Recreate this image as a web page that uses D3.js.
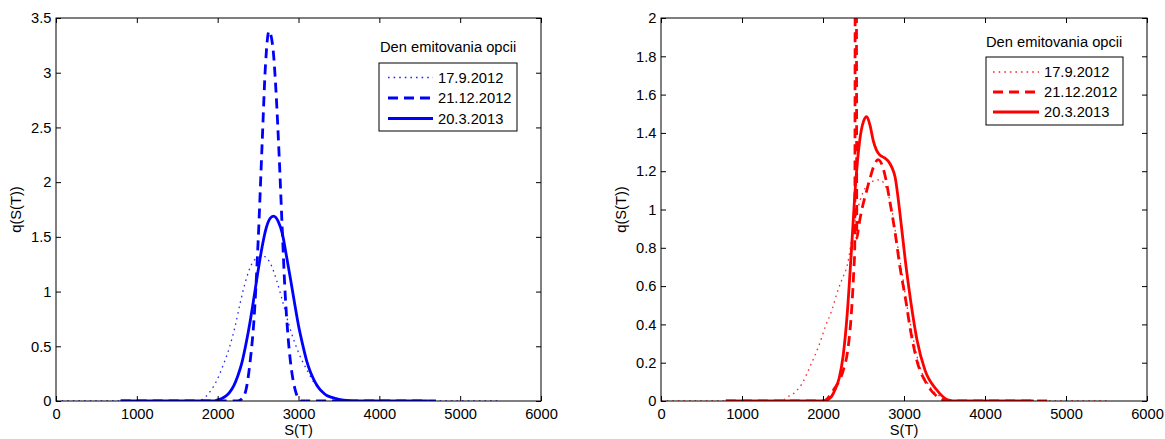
<!DOCTYPE html>
<html>
<head>
<meta charset="utf-8">
<script src="https://cdn.jsdelivr.net/npm/d3@7"></script>
<style>
  body { margin: 0; background: #fff; }
  svg { display: block; font-family: "Liberation Sans", Arial, sans-serif; }
  .tick line { stroke: #000; }
  .tick text { fill: #000; font-size: 14.7px; }
</style>
</head>
<body>
<div id="chart"></div>
<script>
const xTicks = [0, 1000, 2000, 3000, 4000, 5000, 6000];
const leftYTicks = [0, 0.5, 1, 1.5, 2, 2.5, 3, 3.5];
const rightYTicks = [0, 0.2, 0.4, 0.6, 0.8, 1, 1.2, 1.4, 1.6, 1.8, 2];
const seriesNames = ["17.9.2012", "21.12.2012", "20.3.2013"];
const legendTitle = "Den emitovania opcii";

// left panel, [S(T), q]
const blueDotted = [[0, 0], [1750, 0], [1800, 0.01], [1900, 0.08], [1970, 0.16], [2070, 0.33], [2150, 0.5],
  [2215, 0.68], [2280, 0.9], [2340, 1.08], [2420, 1.25], [2500, 1.31], [2580, 1.32], [2650, 1.26], [2730, 1.1],
  [2800, 0.92], [2880, 0.7], [2960, 0.52], [3050, 0.36], [3100, 0.29], [3200, 0.16], [3300, 0.08], [3400, 0.035],
  [3500, 0.01], [3650, 0], [5500, 0]];
const blueDashed = [[800, 0], [2250, 0], [2300, 0.02], [2350, 0.1], [2400, 0.35], [2450, 0.75], [2500, 1.45],
  [2550, 2.35], [2590, 3.05], [2635, 3.38], [2680, 3.25], [2720, 2.85], [2760, 2.25], [2800, 1.55], [2830, 1.05],
  [2875, 0.55], [2920, 0.25], [2960, 0.1], [3000, 0.02], [3040, 0], [4700, 0]];
const blueSolid = [[800, 0], [1950, 0], [2000, 0.011], [2050, 0.023], [2100, 0.044], [2150, 0.081], [2200, 0.14],
  [2250, 0.23], [2300, 0.35], [2350, 0.52], [2400, 0.72], [2450, 0.95], [2500, 1.19], [2550, 1.41], [2600, 1.58],
  [2650, 1.67], [2690, 1.69], [2750, 1.64], [2800, 1.53], [2850, 1.33], [2900, 1.12], [2950, 0.9], [3000, 0.69],
  [3050, 0.52], [3100, 0.37], [3150, 0.26], [3200, 0.18], [3250, 0.12], [3300, 0.08], [3350, 0.05], [3400, 0.035],
  [3450, 0.025], [3500, 0.015], [3600, 0.005], [3700, 0], [4600, 0]];

// right panel, [S(T), q]
const redDotted = [[0, 0], [1500, 0], [1540, 0.015], [1640, 0.04], [1740, 0.09], [1840, 0.18], [1950, 0.29],
  [2030, 0.39], [2110, 0.475], [2170, 0.56], [2230, 0.63], [2300, 0.71], [2380, 0.91], [2460, 1.05], [2580, 1.14],
  [2700, 1.155], [2790, 1.1], [2850, 1.0], [2910, 0.84], [2975, 0.67], [3040, 0.49], [3100, 0.355], [3180, 0.2],
  [3320, 0.075], [3490, 0.015], [3600, 0], [5500, 0]];
const redDashed = [[800, 0], [2000, 0], [2050, 0.01], [2100, 0.04], [2150, 0.07], [2250, 0.16], [2300, 0.25],
  [2340, 0.4], [2380, 0.68], [2392, 0.8], [2405, 5], [2418, 0.85], [2440, 0.91], [2480, 1.0], [2540, 1.1],
  [2585, 1.17], [2640, 1.24], [2680, 1.26], [2710, 1.25], [2770, 1.17], [2830, 1.03], [2890, 0.88], [2950, 0.7],
  [3020, 0.53], [3080, 0.37], [3160, 0.21], [3280, 0.09], [3420, 0.02], [3550, 0], [4800, 0]];
const redSolid = [[800, 0], [2000, 0], [2050, 0.005], [2100, 0.02], [2150, 0.06], [2200, 0.12], [2250, 0.24],
  [2300, 0.46], [2350, 0.78], [2400, 1.12], [2450, 1.35], [2500, 1.46], [2540, 1.485], [2580, 1.44], [2620, 1.36],
  [2660, 1.31], [2700, 1.285], [2760, 1.27], [2810, 1.25], [2850, 1.22], [2890, 1.17], [2950, 0.98], [3020, 0.72],
  [3080, 0.53], [3160, 0.32], [3260, 0.16], [3400, 0.06], [3550, 0.005], [3650, 0], [4600, 0]];

const W = 1165, H = 439;
const plotTop = 18, plotBottom = 401;

const lineStyles = [
  { dash: "1.6,4", width: 1.3, opacity: 0.85 },
  { dash: "10,6", width: 2.8, opacity: 1 },
  { dash: null, width: 2.8, opacity: 1 }
];

const panels = [
  {
    left: 56, right: 541, yMax: 3.5, yTicks: leftYTicks, color: "#0000ff",
    series: [blueDotted, blueDashed, blueSolid], ylabelX: 21,
    legend: { x: 379, y: 63, w: 138, h: 68, titleX: 380, titleY: 52, rows: [77.5, 98, 118.5], x1: 388, x2: 433, textX: 438 }
  },
  {
    left: 661, right: 1147, yMax: 2, yTicks: rightYTicks, color: "#ff0000",
    series: [redDotted, redDashed, redSolid], ylabelX: 626,
    legend: { x: 986, y: 57, w: 137, h: 68, titleX: 986, titleY: 47, rows: [72, 92, 112], x1: 993, x2: 1039, textX: 1044 }
  }
];

const svg = d3.select("#chart")
  .append("svg")
  .attr("width", W)
  .attr("height", H);

panels.forEach((p, i) => {
  const x = d3.scaleLinear().domain([0, 6000]).range([p.left, p.right]);
  const y = d3.scaleLinear().domain([0, p.yMax]).range([plotBottom, plotTop]);
  const g = svg.append("g");

  g.append("clipPath")
    .attr("id", "clip" + i)
    .append("rect")
    .attr("x", p.left)
    .attr("y", plotTop)
    .attr("width", p.right - p.left)
    .attr("height", plotBottom - plotTop);

  const line = d3.line()
    .x(d => x(d[0]))
    .y(d => y(d[1]))
    .curve(d3.curveMonotoneX);

  p.series.forEach((s, k) => {
    const st = lineStyles[k];
    g.append("path")
      .datum(s)
      .attr("clip-path", `url(#clip${i})`)
      .attr("fill", "none")
      .attr("stroke", p.color)
      .attr("stroke-width", st.width)
      .attr("stroke-opacity", st.opacity)
      .attr("stroke-dasharray", st.dash)
      .attr("d", line);
  });

  // axes, ticks pointing inward on all four sides
  g.append("g")
    .attr("transform", `translate(0,${plotBottom})`)
    .call(d3.axisBottom(x).tickValues(xTicks).tickSizeInner(-5).tickSizeOuter(0).tickPadding(8).tickFormat(d3.format("d")))
    .call(a => a.select(".domain").remove());
  g.append("g")
    .attr("transform", `translate(0,${plotTop})`)
    .call(d3.axisTop(x).tickValues(xTicks).tickSizeInner(-5).tickSizeOuter(0).tickFormat(""))
    .call(a => a.select(".domain").remove());
  g.append("g")
    .attr("transform", `translate(${p.left},0)`)
    .call(d3.axisLeft(y).tickValues(p.yTicks).tickSizeInner(-5).tickSizeOuter(0).tickPadding(4.5).tickFormat(d3.format("~g")))
    .call(a => a.select(".domain").remove());
  g.append("g")
    .attr("transform", `translate(${p.right},0)`)
    .call(d3.axisRight(y).tickValues(p.yTicks).tickSizeInner(-5).tickSizeOuter(0).tickFormat(""))
    .call(a => a.select(".domain").remove());

  g.selectAll(".tick text").attr("font-family", null).attr("font-size", null);

  g.append("rect")
    .attr("x", p.left)
    .attr("y", plotTop)
    .attr("width", p.right - p.left)
    .attr("height", plotBottom - plotTop)
    .attr("fill", "none")
    .attr("stroke", "#000")
    .attr("stroke-width", 1);

  g.append("text")
    .attr("x", (p.left + p.right) / 2)
    .attr("y", 435)
    .attr("text-anchor", "middle")
    .style("font-size", "14.7px")
    .text("S(T)");

  g.append("text")
    .attr("transform", `translate(${p.ylabelX},${(plotTop + plotBottom) / 2}) rotate(-90)`)
    .attr("text-anchor", "middle")
    .style("font-size", "14.7px")
    .text("q(S(T))");

  // legend
  const L = p.legend;
  g.append("text")
    .attr("x", L.titleX)
    .attr("y", L.titleY)
    .style("font-size", "14.7px")
    .text(legendTitle);

  g.append("rect")
    .attr("x", L.x)
    .attr("y", L.y)
    .attr("width", L.w)
    .attr("height", L.h)
    .attr("fill", "#fff")
    .attr("stroke", "#000")
    .attr("stroke-width", 1);

  seriesNames.forEach((name, k) => {
    const st = lineStyles[k];
    g.append("line")
      .attr("x1", L.x1)
      .attr("x2", L.x2)
      .attr("y1", L.rows[k])
      .attr("y2", L.rows[k])
      .attr("stroke", p.color)
      .attr("stroke-width", st.width)
      .attr("stroke-opacity", st.opacity)
      .attr("stroke-dasharray", st.dash);
    g.append("text")
      .attr("x", L.textX)
      .attr("y", L.rows[k])
      .attr("dy", "0.36em")
      .style("font-size", "14.7px")
      .text(name);
  });
});
</script>
</body>
</html>
